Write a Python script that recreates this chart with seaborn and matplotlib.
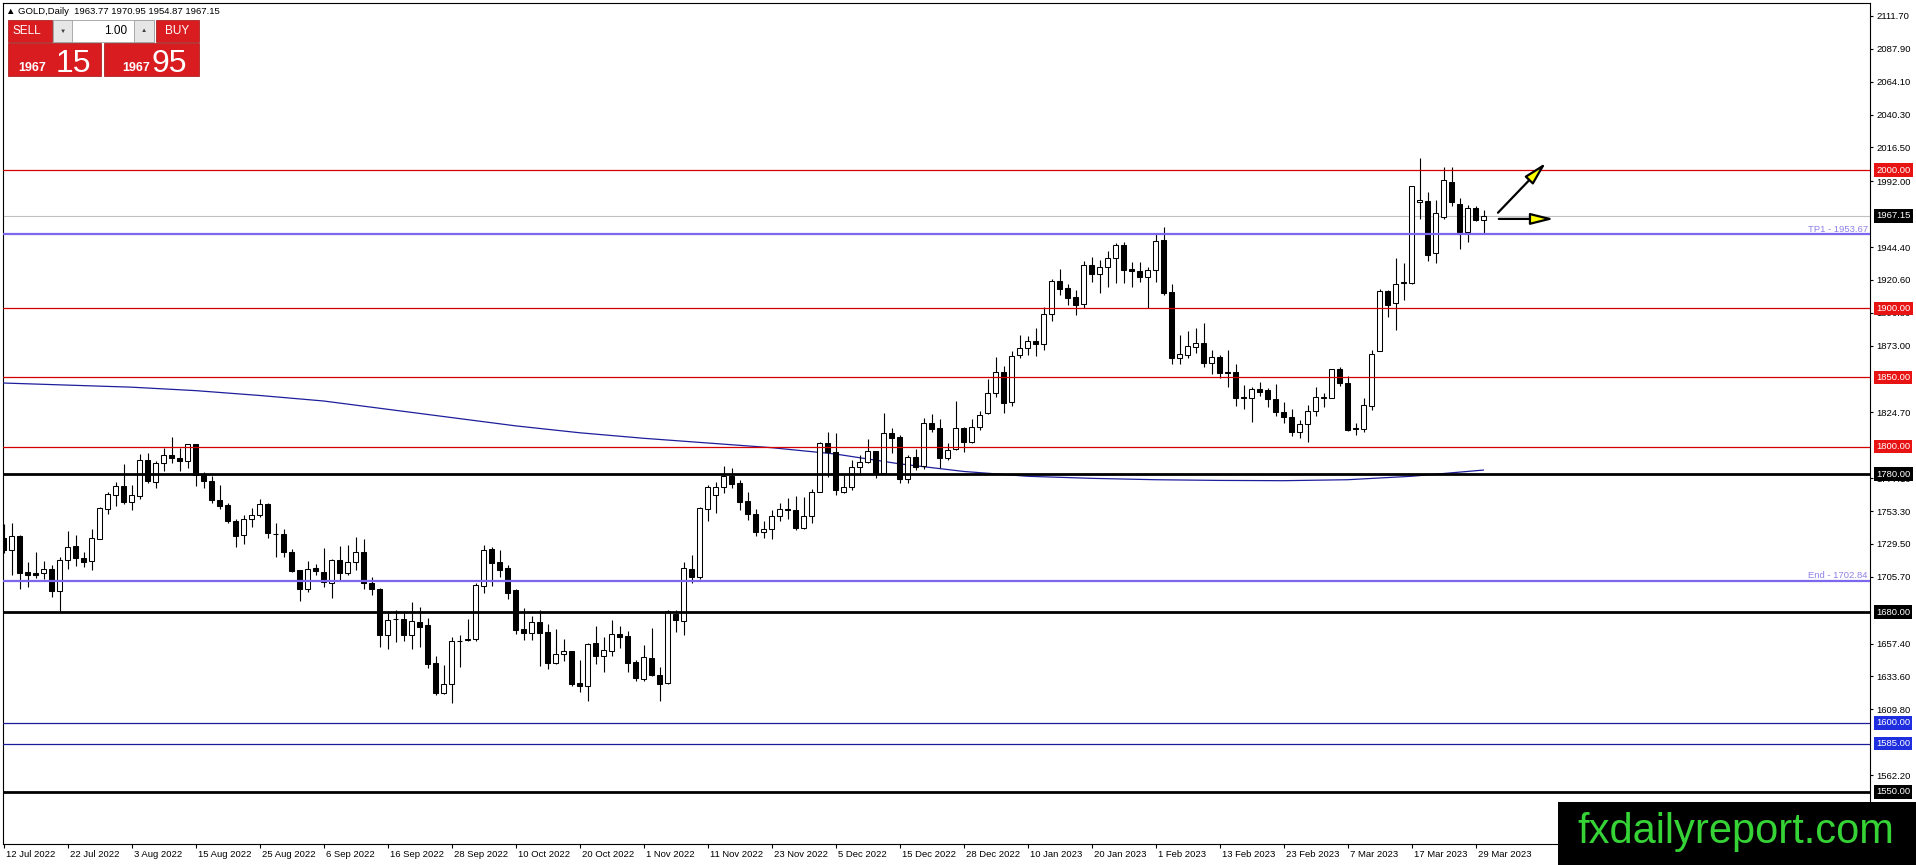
import matplotlib
matplotlib.use('Agg')
import numpy as np
import pandas as pd
import matplotlib.pyplot as plt
import matplotlib.transforms as mtransforms
from matplotlib.patches import Rectangle
import seaborn as sns

sns.set_style('white')
plt.rcParams['font.family'] = ['Liberation Sans', 'DejaVu Sans']

# daily OHLC, 12 Jul 2022 .. 30 Mar 2023
opens = [
    1733.6, 1724.9, 1735.5, 1709.0, 1708.3, 1708.3, 1711.2, 1695.7, 1717.7, 1727.8,
    1719.4, 1717.0, 1733.4, 1755.1, 1764.7, 1771.2, 1759.7, 1764.5, 1790.1, 1774.1,
    1787.9, 1793.9, 1791.8, 1789.4, 1801.6, 1780.2, 1774.9, 1761.4, 1757.5, 1746.2,
    1736.3, 1747.6, 1750.3, 1758.2, 1736.8, 1736.8, 1723.7, 1710.5, 1696.7, 1712.1,
    1709.2, 1701.3, 1717.7, 1708.3, 1716.2, 1723.5, 1701.3, 1696.7, 1663.9, 1675.0,
    1675.0, 1663.9, 1673.3, 1670.6, 1643.1, 1621.4, 1627.9, 1659.3, 1660.3, 1660.5,
    1698.9, 1725.9, 1716.5, 1712.1, 1696.2, 1668.0, 1665.3, 1673.0, 1665.8, 1643.6,
    1649.6, 1652.0, 1628.9, 1627.0, 1657.9, 1648.7, 1652.3, 1664.4, 1662.9, 1644.1,
    1632.0, 1646.7, 1634.4, 1629.1, 1678.8, 1674.0, 1711.2, 1705.9, 1754.6, 1765.2,
    1770.5, 1778.7, 1773.4, 1760.5, 1751.0, 1738.5, 1740.5, 1749.5, 1755.0, 1754.0,
    1741.0, 1749.5, 1767.4, 1802.4, 1795.9, 1767.4, 1770.5, 1785.5, 1788.6, 1796.6,
    1780.7, 1809.6, 1806.7, 1776.3, 1792.2, 1786.2, 1816.9, 1813.2, 1791.5, 1798.0,
    1813.2, 1803.1, 1814.0, 1824.1, 1838.6, 1853.8, 1832.5, 1866.3, 1871.1, 1876.2,
    1874.5, 1895.7, 1919.9, 1914.8, 1908.0, 1903.5, 1931.2, 1925.2, 1929.8, 1936.3,
    1945.9, 1928.3, 1926.9, 1922.5, 1927.6, 1949.6, 1911.7, 1863.9, 1866.6, 1872.3,
    1874.8, 1860.8, 1865.1, 1854.0, 1854.2, 1835.3, 1835.4, 1841.7, 1841.0, 1834.5,
    1825.0, 1821.4, 1810.3, 1816.1, 1826.0, 1835.0, 1835.0, 1856.2, 1846.0, 1813.2,
    1813.0, 1829.6, 1869.5, 1912.6, 1903.7, 1918.7, 1918.7, 1976.8, 1977.8, 1940.4,
    1966.4, 1991.8, 1975.6, 1955.6, 1972.5, 1963.77,
]
highs = [
    1744.0, 1744.5, 1735.9, 1716.2, 1723.7, 1717.4, 1714.1, 1720.3, 1738.9, 1735.8,
    1724.0, 1740.4, 1756.0, 1767.4, 1774.4, 1787.7, 1772.0, 1794.9, 1795.1, 1789.8,
    1799.2, 1807.0, 1799.2, 1802.1, 1801.6, 1781.9, 1778.7, 1772.0, 1759.0, 1747.8,
    1750.7, 1755.3, 1762.0, 1759.0, 1744.5, 1740.1, 1725.7, 1710.7, 1717.2, 1715.0,
    1726.6, 1718.4, 1728.1, 1728.8, 1734.3, 1732.9, 1705.9, 1697.4, 1679.8, 1681.7,
    1680.5, 1687.3, 1684.1, 1675.7, 1648.4, 1642.2, 1662.2, 1663.9, 1675.5, 1701.0,
    1729.0, 1727.1, 1725.2, 1714.1, 1696.9, 1683.0, 1677.6, 1681.5, 1671.6, 1667.7,
    1660.5, 1652.0, 1645.5, 1657.6, 1670.2, 1662.2, 1674.5, 1670.2, 1666.3, 1645.5,
    1656.4, 1668.7, 1640.2, 1681.7, 1681.7, 1716.7, 1721.5, 1756.5, 1772.0, 1774.6,
    1786.0, 1784.3, 1775.8, 1767.0, 1755.0, 1746.0, 1754.0, 1759.0, 1763.0, 1764.0,
    1763.5, 1769.0, 1803.1, 1810.8, 1810.1, 1779.5, 1790.3, 1793.9, 1805.3, 1797.1,
    1824.1, 1813.2, 1808.2, 1793.9, 1798.0, 1820.5, 1823.6, 1819.7, 1802.4, 1833.0,
    1814.4, 1819.7, 1825.8, 1848.9, 1865.1, 1858.6, 1868.9, 1880.5, 1879.8, 1885.9,
    1900.8, 1921.1, 1928.6, 1917.5, 1913.4, 1934.1, 1937.0, 1935.1, 1941.6, 1947.6,
    1948.3, 1933.9, 1933.6, 1930.2, 1953.7, 1959.0, 1917.7, 1880.8, 1883.7, 1885.6,
    1889.2, 1869.9, 1866.3, 1869.9, 1859.8, 1844.6, 1843.4, 1846.5, 1842.2, 1845.1,
    1832.5, 1827.0, 1819.3, 1830.1, 1843.4, 1838.6, 1855.9, 1857.9, 1851.1, 1816.8,
    1835.4, 1869.9, 1913.8, 1913.4, 1936.8, 1933.1, 1988.6, 2008.7, 1984.5, 1978.5,
    2002.1, 2002.1, 1979.7, 1974.9, 1974.4, 1970.95,
]
lows = [
    1722.8, 1707.1, 1696.7, 1698.1, 1704.7, 1704.4, 1691.4, 1680.5, 1711.7, 1713.8,
    1712.8, 1710.4, 1732.9, 1751.5, 1757.3, 1758.7, 1753.9, 1762.3, 1773.4, 1770.3,
    1782.6, 1787.9, 1782.6, 1784.3, 1771.7, 1770.3, 1759.0, 1754.8, 1744.9, 1727.1,
    1729.7, 1741.6, 1749.3, 1733.6, 1719.9, 1720.4, 1709.0, 1688.0, 1694.5, 1706.8,
    1698.6, 1690.7, 1703.5, 1707.3, 1710.7, 1696.7, 1692.8, 1655.2, 1653.3, 1658.8,
    1659.0, 1653.3, 1655.2, 1639.5, 1620.2, 1621.2, 1614.2, 1640.7, 1659.0, 1659.0,
    1694.3, 1699.1, 1705.9, 1689.7, 1664.6, 1660.0, 1660.0, 1641.5, 1639.3, 1642.9,
    1644.8, 1626.7, 1622.1, 1616.1, 1642.9, 1637.1, 1648.7, 1654.5, 1637.1, 1630.6,
    1630.6, 1633.7, 1616.1, 1628.4, 1666.1, 1663.6, 1701.5, 1703.9, 1746.4, 1752.2,
    1766.2, 1769.8, 1754.1, 1747.0, 1735.5, 1733.5, 1733.0, 1746.0, 1747.5, 1739.5,
    1740.0, 1745.0, 1767.0, 1778.2, 1765.0, 1766.2, 1768.6, 1780.7, 1787.9, 1777.0,
    1780.7, 1795.1, 1773.4, 1773.4, 1783.1, 1783.6, 1810.8, 1784.3, 1790.3, 1797.5,
    1796.3, 1802.9, 1812.0, 1823.6, 1835.7, 1824.1, 1829.6, 1864.4, 1866.3, 1865.8,
    1869.9, 1891.2, 1910.0, 1902.5, 1895.5, 1900.1, 1919.4, 1910.9, 1915.8, 1918.7,
    1918.7, 1915.8, 1918.9, 1900.1, 1919.4, 1909.7, 1859.8, 1859.8, 1863.9, 1868.0,
    1857.9, 1852.3, 1849.4, 1843.4, 1829.6, 1827.0, 1818.0, 1836.6, 1828.9, 1822.1,
    1816.8, 1807.9, 1806.5, 1803.6, 1822.1, 1828.9, 1835.0, 1844.1, 1811.5, 1808.4,
    1810.8, 1826.5, 1869.5, 1894.1, 1884.4, 1906.1, 1917.5, 1965.0, 1934.6, 1933.1,
    1964.5, 1974.4, 1943.3, 1948.3, 1963.5, 1954.87,
]
closes = [
    1725.2, 1735.1, 1708.8, 1707.3, 1707.3, 1711.2, 1695.7, 1717.7, 1727.3, 1719.1,
    1716.2, 1733.6, 1755.3, 1765.5, 1771.2, 1759.7, 1764.7, 1790.1, 1774.9, 1788.1,
    1793.7, 1791.5, 1789.4, 1801.6, 1779.2, 1774.9, 1761.1, 1757.3, 1746.4, 1735.5,
    1747.4, 1750.5, 1758.2, 1737.2, 1736.5, 1723.5, 1710.2, 1697.2, 1711.2, 1709.7,
    1702.0, 1717.7, 1708.3, 1716.2, 1723.5, 1701.0, 1696.7, 1663.9, 1674.3, 1675.3,
    1663.9, 1673.5, 1669.7, 1642.9, 1621.9, 1627.9, 1659.0, 1659.0, 1660.8, 1699.6,
    1725.2, 1715.5, 1710.9, 1694.3, 1667.3, 1665.3, 1672.8, 1665.3, 1643.6, 1649.6,
    1651.8, 1628.4, 1627.0, 1657.1, 1648.7, 1652.5, 1664.4, 1662.4, 1643.6, 1632.8,
    1647.5, 1634.4, 1628.4, 1681.0, 1674.5, 1711.9, 1705.9, 1755.3, 1770.5, 1770.5,
    1778.7, 1772.7, 1760.2, 1751.0, 1738.5, 1740.5, 1749.5, 1755.0, 1754.0, 1741.0,
    1750.0, 1767.4, 1802.4, 1796.3, 1768.6, 1770.5, 1785.5, 1788.6, 1796.6, 1780.7,
    1810.1, 1806.5, 1776.3, 1792.2, 1785.5, 1816.9, 1812.8, 1791.5, 1797.5, 1813.2,
    1803.1, 1814.0, 1823.1, 1838.6, 1853.8, 1831.8, 1865.6, 1871.1, 1876.2, 1874.5,
    1895.7, 1919.9, 1914.1, 1907.8, 1902.7, 1931.2, 1925.2, 1930.2, 1936.3, 1945.9,
    1928.1, 1927.4, 1922.5, 1927.8, 1949.1, 1911.4, 1864.4, 1867.0, 1872.8, 1874.8,
    1860.8, 1864.6, 1853.0, 1853.3, 1834.9, 1835.4, 1841.5, 1839.8, 1834.2, 1824.8,
    1821.2, 1810.3, 1816.1, 1826.0, 1835.7, 1836.2, 1855.9, 1845.8, 1812.0, 1812.5,
    1829.9, 1866.8, 1912.9, 1902.7, 1917.5, 1919.2, 1988.6, 1978.5, 1938.7, 1968.9,
    1993.0, 1977.3, 1955.6, 1972.5, 1964.0, 1967.15,
]

# moving average, sampled every 8 bars
ma_bars = [0, 8, 16, 24, 32, 40, 48, 56, 64, 72, 80, 88, 96, 104, 112, 120,
           128, 136, 144, 152, 160, 168, 176, 184, 185]
ma_vals = [1846.0, 1844.5, 1843.0, 1840.5, 1837.0, 1833.0, 1827.0, 1821.0,
           1815.0, 1810.0, 1806.0, 1802.6, 1799.2, 1794.6, 1787.5, 1782.0,
           1778.5, 1777.0, 1776.0, 1775.5, 1775.3, 1776.0, 1778.5, 1782.5, 1783.0]

date_labels = ['12 Jul 2022', '22 Jul 2022', '3 Aug 2022', '15 Aug 2022', '25 Aug 2022',
               '6 Sep 2022', '16 Sep 2022', '28 Sep 2022', '10 Oct 2022', '20 Oct 2022',
               '1 Nov 2022', '11 Nov 2022', '23 Nov 2022', '5 Dec 2022', '15 Dec 2022',
               '28 Dec 2022', '10 Jan 2023', '20 Jan 2023', '1 Feb 2023', '13 Feb 2023',
               '23 Feb 2023', '7 Mar 2023', '17 Mar 2023', '29 Mar 2023']
y_ticks = [2111.70, 2087.90, 2064.10, 2040.30, 2016.50, 1992.00, 1944.40, 1920.60,
           1896.80, 1873.00, 1824.70, 1777.10, 1753.30, 1729.50, 1705.70, 1657.40,
           1633.60, 1609.80, 1562.20]

red_levels = [2000.0, 1900.0, 1850.0, 1800.0]
black_levels = [1780.0, 1680.0, 1550.0]
blue_levels = [1600.0, 1585.0]
fib_levels = [1953.67, 1702.84]
fib_names = ['TP1', 'End']
last_price = 1967.15
header = '\u25b2 GOLD,Daily  1963.77 1970.95 1954.87 1967.15'

# arrows drawn after the last bar (bar index, price)
arrow_tails = [(186.8, 1969.3), (186.9, 1964.8)]
arrow_heads = [(192.8, 2005.5), (193.8, 1964.8)]

df = pd.DataFrame({'open': opens, 'high': highs, 'low': lows, 'close': closes})
df['bar'] = np.arange(len(df))
df['bull'] = df['close'] >= df['open']

W, H = 1916, 865
fig = plt.figure(figsize=(W / 100, H / 100), dpi=100)
ax = fig.add_axes([3 / W, 21 / H, 1867 / W, 841 / H])

# candles
ax.vlines(df['bar'], df['low'], df['high'], color='black', lw=0.8, zorder=3)
body = (df['close'] - df['open']).abs().clip(lower=0.35)
ax.bar(df['bar'], body, bottom=df[['open', 'close']].min(axis=1), width=0.56,
       color=np.where(df['bull'], 'white', 'black'), edgecolor='black',
       linewidth=0.75, zorder=4)

sns.lineplot(x=ma_bars, y=ma_vals, ax=ax, color='#1e1e9c', lw=0.9, zorder=2.6)

# horizontal levels
ax.axhline(last_price, color='#c0c0c0', lw=0.8, zorder=1)
for lv in red_levels:
    ax.axhline(lv, color='#d40000', lw=0.9, zorder=5)
for lv in black_levels:
    ax.axhline(lv, color='black', lw=2.0, zorder=5)
for lv in blue_levels:
    ax.axhline(lv, color='#1c1c9a', lw=0.9, zorder=5)
for lv in fib_levels:
    ax.axhline(lv, color='#7b68ee', lw=1.6, zorder=5)

ax.set_xlim(-0.0625, 233.3)
ax.set_ylim(1512.3, 2121.1)

ax.set_xticks(range(0, 8 * len(date_labels), 8))
ax.set_xticklabels(date_labels, ha='left')
ax.tick_params(axis='x', bottom=True, direction='out', length=3, width=0.8,
               labelsize=6.8, pad=1.5, colors='black')
shift = mtransforms.ScaledTranslation(2 / 100, 0, fig.dpi_scale_trans)
for lbl in ax.get_xticklabels():
    lbl.set_transform(lbl.get_transform() + shift)

ax.yaxis.tick_right()
ax.set_yticks(y_ticks)
ax.set_yticklabels([f'{v:.2f}' for v in y_ticks])
ax.tick_params(axis='y', right=True, left=False, labelright=True, labelleft=False,
               direction='out', length=2.5, width=0.8, labelsize=6.8, pad=2,
               colors='black')
ax.set_xlabel('')
ax.set_ylabel('')
for s in ax.spines.values():
    s.set_color('black')
    s.set_linewidth(0.8)

# price boxes on the right scale
trans = mtransforms.blended_transform_factory(ax.transAxes, ax.transData)
box_x = (1876 - 3) / 1867
boxes = ([(lv, '#e81414') for lv in red_levels] + [(lv, 'black') for lv in black_levels]
         + [(lv, '#1f2fe0') for lv in blue_levels] + [(last_price, 'black')])
for lv, col in boxes:
    ax.text(box_x, lv, f'{lv:.2f}', transform=trans, ha='left', va='center',
            fontsize=6.8, color='white', clip_on=False, zorder=7,
            bbox=dict(boxstyle='square,pad=0.25', fc=col, ec='none'))

for lv, name in zip(fib_levels, fib_names):
    ax.annotate(f'{name} - {lv:.2f}', xy=(0.9989, lv), xycoords=trans,
                xytext=(0, 0.5), textcoords='offset points', ha='right',
                va='bottom', fontsize=6.8, color='#8f82e6', zorder=7)

for (x0, y0), (x1, y1) in zip(arrow_tails, arrow_heads):
    ax.annotate('', xy=(x1, y1), xytext=(x0, y0), annotation_clip=False, zorder=8,
                arrowprops=dict(arrowstyle='-|>,head_length=1.4,head_width=0.35',
                                mutation_scale=10, fc='#ffff00', ec='black', lw=1.6,
                                shrinkA=0, shrinkB=0))

# overlay in pixel coordinates: trade panel, header, watermark
ov = fig.add_axes([0, 0, 1, 1])
ov.set_zorder(10)
ov.set_xlim(0, W)
ov.set_ylim(H, 0)
ov.axis('off')

ov.text(6, 11, header, fontsize=6.8, ha='left', va='center', color='black')

red = '#d81c20'
ov.add_patch(Rectangle((8, 20), 44, 22, fc=red, ec='#a01010', lw=0.5))
ov.add_patch(Rectangle((156, 20), 43, 22, fc=red, ec='#a01010', lw=0.5))
ov.add_patch(Rectangle((53, 20), 101, 22, fc='white', ec='#a0a0a0', lw=0.6))
ov.add_patch(Rectangle((53, 20), 19, 22, fc='#e6e6e6', ec='#a0a0a0', lw=0.6))
ov.add_patch(Rectangle((134, 20), 20, 22, fc='#e6e6e6', ec='#a0a0a0', lw=0.6))
ov.add_patch(Rectangle((8, 43), 93, 33, fc=red, ec='#a01010', lw=0.5))
ov.add_patch(Rectangle((104, 43), 95, 33, fc=red, ec='#a01010', lw=0.5))
ov.text(27, 31, 'SELL', color='white', fontsize=8.5, ha='center', va='center')
ov.text(177, 31, 'BUY', color='white', fontsize=8.5, ha='center', va='center')
ov.text(62.5, 31, '\u25bc', color='#404040', fontsize=4.5, ha='center', va='center')
ov.text(144, 31, '\u25b2', color='#404040', fontsize=4.5, ha='center', va='center')
ov.text(127, 31, '1.00', color='black', fontsize=8.5, ha='right', va='center')
ov.text(18, 71, '1967', color='white', fontsize=9, fontweight='bold', ha='left', va='baseline')
ov.text(56, 72, '15', color='white', fontsize=23, ha='left', va='baseline')
ov.text(122, 71, '1967', color='white', fontsize=9, fontweight='bold', ha='left', va='baseline')
ov.text(152, 72, '95', color='white', fontsize=23, ha='left', va='baseline')

ov.add_patch(Rectangle((1558, 802), 358, 63, fc='black', ec='none'))
ov.text(1736, 843, 'fxdailyreport.com', color='#35d335', fontsize=30,
        ha='center', va='baseline')

fig.savefig('out.png', dpi=100)
plt.close(fig)
